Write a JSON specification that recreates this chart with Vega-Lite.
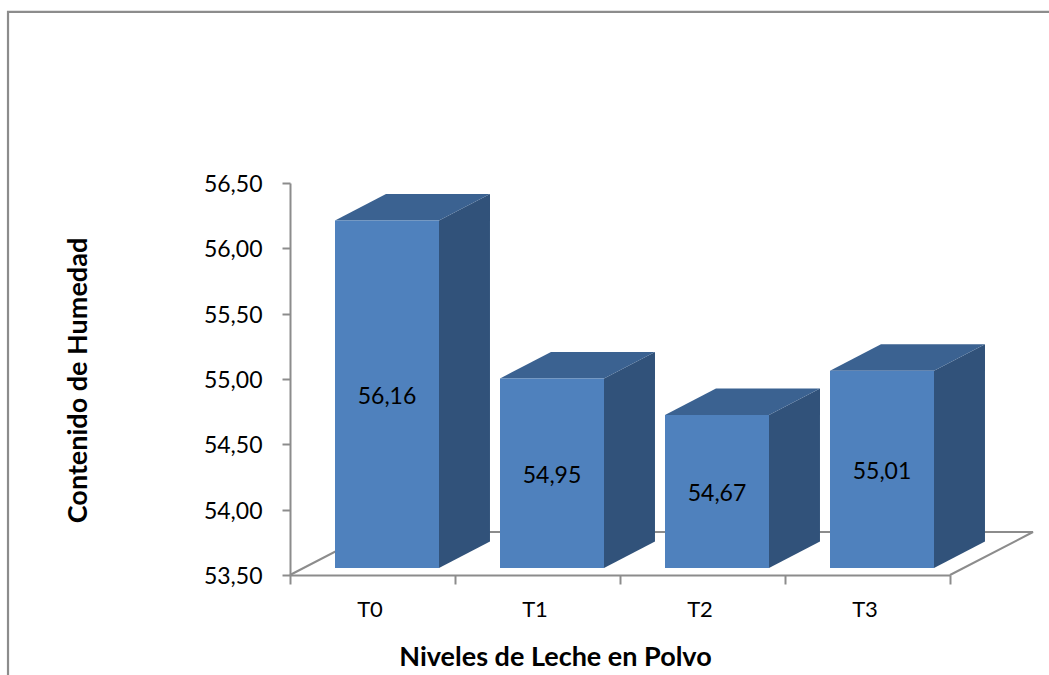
{
"$schema":"https://vega.github.io/schema/vega-lite/v6.json",
"width":660,"height":392,
"autosize":{"type":"none"},
"padding":{"left":290,"top":183,"right":99,"bottom":100},
"background":"white",
"config":{"view":{"stroke":null},"font":"Lato"},
"data":{"name":"bars","values":[
{"nivel":"T0","humedad":56.16},
{"nivel":"T1","humedad":54.95},
{"nivel":"T2","humedad":54.67},
{"nivel":"T3","humedad":55.01}]},
"transform":[
{"calculate":"parseInt(substring(datum.nivel,1))","as":"i"},
{"calculate":"datum.humedad+0.0536","as":"top"},
{"calculate":"(datum.top+53.5536)/2-0.022","as":"mid"},
{"calculate":"replace(format(datum.humedad,'.2f'),'.',',')","as":"etiqueta"}
],
"layer":[
{"layer":[
{"data":{"values":[{"n":0,"fx":-1.709,"fy":52.7},{"n":1,"fx":-1.709,"fy":57.81},{"n":2,"fx":4.61,"fy":57.81}]},
 "transform":[],
 "mark":{"type":"line","color":"#8c8c8c","strokeWidth":2.2,"clip":false},
 "encoding":{"x":{"field":"fx","type":"quantitative","scale":{"domain":[0,4],"nice":false,"zero":false},"axis":null},"y":{"field":"fy","type":"quantitative","scale":{"domain":[53.5,56.5],"nice":false,"zero":false},"axis":{"values":[53.5,54,54.5,55,55.5,56,56.5],"labelExpr":"replace(format(datum.value,'.2f'),'.',',')","grid":false,"domainColor":"#8c8c8c","domainWidth":2,"tickColor":"#8c8c8c","tickWidth":2,"tickSize":8,"labelFontSize":23,"labelColor":"#000000","labelPadding":20,"labelOffset":1.5,"labelFont":"Lato","title":"Contenido de Humedad","titleFont":"Lato","titleFontSize":27,"titleFontWeight":"bold","titleColor":"#000000","titleX":-212,"titleY":197,"titleBaseline":"middle"}},"order":{"field":"n"}}},
{"data":{"values":[{"n":0,"fx":0,"fy":53.5},{"n":1,"fx":0.503,"fy":53.829},{"n":2,"fx":4.503,"fy":53.829},{"n":3,"fx":4,"fy":53.5}]},
 "transform":[],
 "mark":{"type":"line","color":"#8c8c8c","strokeWidth":2},
 "encoding":{"x":{"field":"fx","type":"quantitative","axis":null},"y":{"field":"fy","type":"quantitative"},"order":{"field":"n"}}},
{"transform":[
 {"calculate":"[0,1]","as":"k"},{"flatten":["k"]},
 {"calculate":"datum.i+0.903+datum.k*0.309","as":"xs"},
 {"calculate":"53.5536+datum.k*0.2028","as":"y0"},
 {"calculate":"datum.top+datum.k*0.2028","as":"y1"}],
 "mark":{"type":"area","color":"#31527a","interpolate":"linear"},
 "encoding":{"x":{"field":"xs","type":"quantitative","axis":null},"y":{"field":"y0","type":"quantitative","stack":null},"y2":{"field":"y1"},"detail":{"field":"nivel"}}},
{"transform":[
 {"calculate":"[0,1,2,3]","as":"k"},{"flatten":["k"]},
 {"calculate":"datum.i+0.2727+[0,0.309,0.6303,0.9393][datum.k]","as":"xs"},
 {"calculate":"datum.top+[0,0,0,0.2028][datum.k]","as":"y0"},
 {"calculate":"datum.top+[0,0.2028,0.2028,0.2028][datum.k]","as":"y1"}],
 "mark":{"type":"area","color":"#3b6291","interpolate":"linear"},
 "encoding":{"x":{"field":"xs","type":"quantitative","axis":null},"y":{"field":"y0","type":"quantitative","stack":null},"y2":{"field":"y1"},"detail":{"field":"nivel"}}}
],"resolve":{"scale":{"x":"shared"}}},
{"layer":[
{"mark":{"type":"bar","color":"#4f81bd","width":104,"xOffset":14.5,"x2Offset":14.5,"yOffset":-7,"y2Offset":-7},
 "encoding":{
 "x":{"field":"nivel","type":"nominal","scale":{"paddingInner":0,"paddingOuter":0},"axis":{"labelAngle":0,"tickBand":"extent","labelOffset":-3,"domainColor":"#8c8c8c","domainWidth":2,"tickColor":"#8c8c8c","tickWidth":2,"tickSize":9,"labelFontSize":22,"labelColor":"#000000","labelPadding":15,"labelFont":"Lato","title":"Niveles de Leche en Polvo","titleFont":"Lato","titleFontSize":27,"titleFontWeight":"bold","titleColor":"#000000","titleX":265,"titleY":82,"titleBaseline":"middle"}},
 "y":{"field":"humedad","type":"quantitative","stack":null},
 "y2":{"datum":53.5}}},
{"mark":{"type":"text","xOffset":14.5,"fontSize":23,"color":"#000000","font":"Lato"},
 "encoding":{"x":{"field":"nivel","type":"nominal"},"y":{"field":"mid","type":"quantitative"},"text":{"field":"etiqueta"}}}
]}
],
"resolve":{"scale":{"x":"independent"},"axis":{"x":"independent"}}
}
